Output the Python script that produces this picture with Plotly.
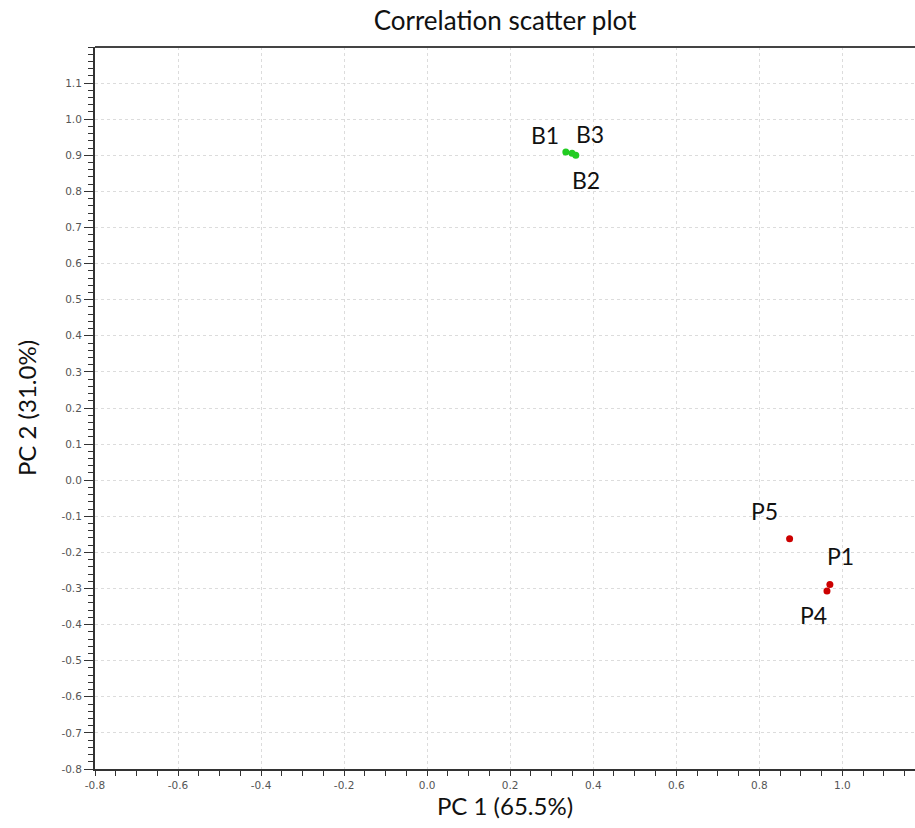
import plotly.graph_objects as go

# Data
b_labels = ["B1", "B3", "B2"]
b_x = [0.334, 0.349, 0.358]
b_y = [0.909, 0.906, 0.900]

p_labels = ["P5", "P1", "P4"]
p_x = [0.873, 0.970, 0.963]
p_y = [-0.162, -0.289, -0.307]

x_ticks = [-0.8, -0.6, -0.4, -0.2, 0.0, 0.2, 0.4, 0.6, 0.8, 1.0]
y_ticks = [round(-0.8 + 0.1 * i, 1) for i in range(20)]

# label offsets in pixels (style only): (xshift, yshift)
label_shift = {
    "B1": (-21, 17), "B3": (18, 19), "B2": (10, -25),
    "P5": (-25, 28), "P1": (11, 29), "P4": (-13, -24),
}

label_font = dict(family="Lato, Open Sans, sans-serif", size=23, color="#111")
tick_font = dict(family="DejaVu Sans, sans-serif", size=10.5, color="#555")

fig = go.Figure()
fig.add_trace(go.Scatter(
    x=b_x, y=b_y, mode="markers",
    marker=dict(color="#22cc22", size=7), showlegend=False, hoverinfo="skip",
))
fig.add_trace(go.Scatter(
    x=p_x, y=p_y, mode="markers",
    marker=dict(color="#cc0000", size=7), showlegend=False, hoverinfo="skip",
))

annotations = []
for labels, xs, ys in [(b_labels, b_x, b_y), (p_labels, p_x, p_y)]:
    for lab, xv, yv in zip(labels, xs, ys):
        dx, dy = label_shift[lab]
        annotations.append(dict(
            x=xv, y=yv, xref="x", yref="y", text=lab, showarrow=False,
            xanchor="center", yanchor="middle", xshift=dx, yshift=dy, font=label_font,
        ))

grid = dict(showgrid=True, gridcolor="#dcdcdc", griddash="dot", gridwidth=1)

fig.update_layout(
    width=915, height=828,
    margin=dict(l=95, r=0, t=47, b=59),
    paper_bgcolor="white", plot_bgcolor="white",
    title=dict(text="Correlation scatter plot", x=0.5, xref="paper", xanchor="center",
               y=0.975, yanchor="middle",
               font=dict(family="Lato, Open Sans, sans-serif", size=26, color="#111")),
    xaxis=dict(
        range=[-0.8, 1.175], tickmode="array", tickvals=x_ticks,
        ticktext=[f"{v:.1f}" for v in x_ticks], automargin=False,
        ticks="outside", ticklen=5, tickwidth=1, tickcolor="#333",
        showline=True, linecolor="#333", linewidth=2, zeroline=False,
        tickfont=tick_font,
        minor=dict(dtick=0.05, tick0=-0.8, ticks="outside", ticklen=5, tickcolor="#333", showgrid=False),
        title=dict(text="PC 1 (65.5%)", font=dict(family="Lato, Open Sans, sans-serif", size=24, color="#111"), standoff=4),
        **grid,
    ),
    yaxis=dict(
        range=[-0.8, 1.2], tickmode="array", tickvals=y_ticks,
        ticktext=[f"{v:.1f}" for v in y_ticks], automargin=False,
        ticks="outside", ticklen=9, tickwidth=1, tickcolor="#333",
        showline=True, linecolor="#333", linewidth=2, zeroline=False,
        tickfont=tick_font,
        minor=dict(dtick=0.02, tick0=-0.8, ticks="outside", ticklen=5, tickcolor="#333", showgrid=False),
        title=dict(text="PC 2 (31.0%)", font=dict(family="Lato, Open Sans, sans-serif", size=24, color="#111"), standoff=18),
        **grid,
    ),
    annotations=annotations,
    shapes=[dict(type="line", xref="paper", yref="paper", x0=0, x1=1, y0=1, y1=1,
                 line=dict(color="#444", width=2))],
)

fig.write_html("out.html", config={"displayModeBar": False},
               post_script="document.body.style.margin='0';document.body.style.overflow='hidden';")
